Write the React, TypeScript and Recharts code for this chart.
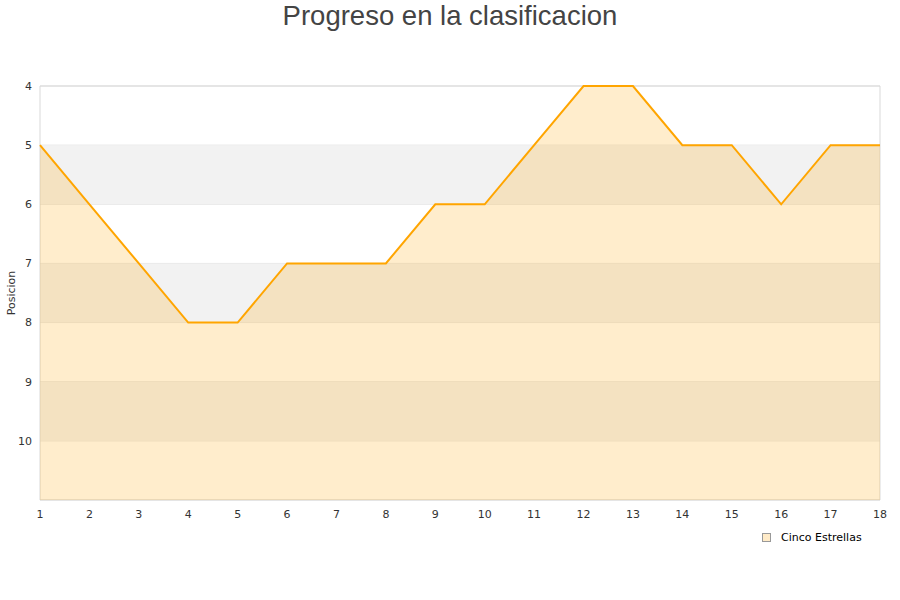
import React from 'react'
import { ComposedChart, Area, XAxis, YAxis, CartesianGrid, ReferenceArea, Legend } from 'recharts'

const jornadas = [1, 2, 3, 4, 5, 6, 7, 8, 9, 10, 11, 12, 13, 14, 15, 16, 17, 18]
const posiciones = [5, 6, 7, 8, 8, 7, 7, 7, 6, 6, 5, 4, 4, 5, 5, 6, 5, 5]
const posicionTicks = [4, 5, 6, 7, 8, 9, 10]
const bandas: [number, number][] = [[5, 6], [7, 8], [9, 10]]

const serieNombre = 'Cinco Estrellas'
const titulo = 'Progreso en la clasificacion'

const data = jornadas.map((j, i) => ({ jornada: j, posicion: posiciones[i] }))

const font = '"DejaVu Sans", sans-serif'

const LegendBox = () => (
  <div style={{ display: 'flex', alignItems: 'center', height: 20, fontFamily: font, fontSize: 11, color: '#000' }}>
    <span style={{ display: 'inline-block', width: 7, height: 7, background: '#ffebc8', border: '1px solid #999', marginRight: 10 }} />
    {serieNombre}
  </div>
)

const App = () => {
  return (
    <div style={{ position: 'absolute', left: 0, top: 0, width: 900, height: 600, background: '#fff' }}>
      <div style={{ position: 'absolute', top: 0, width: 900, textAlign: 'center', fontFamily: '"Liberation Sans", Arial, sans-serif', fontSize: 27.5, color: '#444', lineHeight: '32px' }}>
        {titulo}
      </div>
      <ComposedChart width={900} height={600} data={data} margin={{ top: 86, right: 20, left: 0, bottom: 50 }}>
        {bandas.map(([a, b]) => (
          <ReferenceArea key={a} x1={1} x2={18} y1={a} y2={b} fill="#f2f2f2" fillOpacity={1} stroke="none" />
        ))}
        <CartesianGrid vertical={false} stroke="#e2e2e2" />
        <ReferenceArea x1={1} x2={18} y1={4} y2={11} fill="none" stroke="#d9d9d9" strokeWidth={1} />
        <XAxis
          dataKey="jornada"
          type="number"
          domain={[1, 18]}
          ticks={jornadas}
          height={30}
          axisLine={false}
          tickLine={false}
          tickMargin={4}
          tick={{ fontSize: 11, fill: '#333', fontFamily: font }}
        />
        <YAxis
          type="number"
          domain={[4, 11]}
          reversed
          ticks={posicionTicks}
          width={40}
          axisLine={false}
          tickLine={false}
          interval={0}
          tick={{ fontSize: 11, fill: '#333', fontFamily: font }}
          label={{ value: 'Posicion', angle: -90, position: 'insideLeft', offset: 11, style: { fontSize: 11, fill: '#333', fontFamily: font, textAnchor: 'middle' } }}
        />
        <Area
          type="linear"
          dataKey="posicion"
          name={serieNombre}
          baseValue="dataMax"
          stroke="#ffa500"
          strokeWidth={2}
          fill="#ffa500"
          fillOpacity={0.2}
          dot={false}
          activeDot={false}
          isAnimationActive={false}
        />
        <Legend content={<LegendBox />} wrapperStyle={{ left: 762, top: 527, width: 'auto' }} />
      </ComposedChart>
    </div>
  )
}

export default App
